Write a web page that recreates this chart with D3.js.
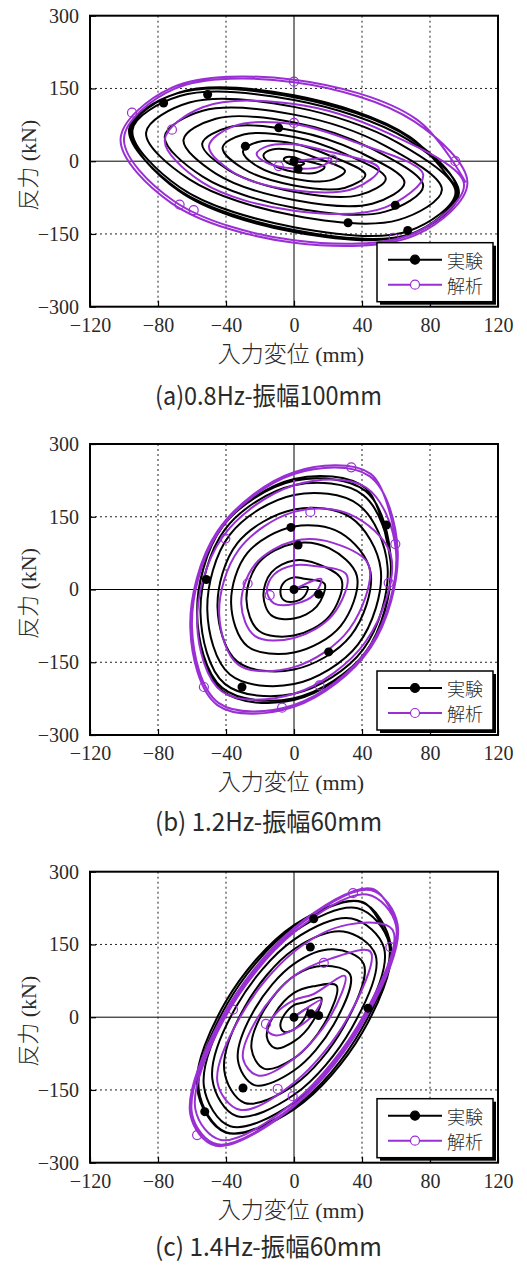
<!DOCTYPE html>
<html><head><meta charset="utf-8">
<script src="https://cdn.jsdelivr.net/npm/d3@7"></script>
<style>body{margin:0;background:#fff}</style>
</head><body>
<svg id="c" width="527" height="1265"></svg>
<script>
const xTicks=[-120,-80,-40,0,40,80,120];
const yTicks=[-300,-150,0,150,300];
const xGrid=[-80,-40,40,80];
const yGrid=[-150,150];
const captions=["(a)0.8Hz-振幅100mm","(b) 1.2Hz-振幅60mm","(c) 1.4Hz-振幅60mm"];
const legendNames=["実験","解析"];
const xTitle="入力変位", xUnit=" (mm)", yTitle="反力", yUnit=" (kN)";

// (a) 0.8Hz experiment / analysis  [displacement mm, force kN]
const expA=[[0,0],
[6,-4],[4.2,-8.5],[0,-8],[-4.2,-2.8],[-6,4],[-4.2,8.5],[0,8],[4.2,2.8],
[18,-12],[12.7,-24],[0,-22],[-12.7,-7.1],[-18,12],[-12.7,24],[0,22],[12.7,7.1],
[30,-20],[21.2,-39.6],[0,-36],[-21.2,-11.3],[-30,20],[-21.2,39.6],[0,36],[21.2,11.3],
[42,-28],[29.7,-55.1],[0,-50],[-29.7,-15.6],[-42,28],[-29.7,55.1],[0,50],[29.7,15.6],
[54,-36],[38.2,-70],[0,-63],[-38.2,-19.1],[-54,36],[-38.2,70],[0,63],[38.2,19.1],
[65,-44],[46,-87.7],[0,-80],[-46,-25.5],[-65,44],[-46,87.7],[0,80],[46,25.5],
[76,-51],[53.7,-103.9],[0,-96],[-53.7,-31.8],[-76,51],[-53.7,103.9],[0,96],[53.7,31.8],
[87,-59],[61.5,-120.9],[0,-112],[-61.5,-37.5],[-87,59],[-61.5,120.9],[0,112],[61.5,37.5],
[95,-64],[67.2,-144.3],[0,-136],[-67.2,-53.8],[-95,64],[-67.2,134.3],[0,126],[67.2,43.8],
[97,-66],[68.6,-150],[0,-142],[-68.6,-56.7],[-97,66],[-68.6,140],[0,132],[68.6,46.7],
[96,-64],[67.9,-151.4],[0,-146],[-67.9,-60.9],[-96,64],[-67.9,141.4],[0,136],[67.9,50.9],
[97,-62]];
const anaA=[[0,0],
[22,5],[15.6,-11.2],[0,-15],[-15.6,-4.1],[-22,15],[-15.6,31.2],[0,35],[15.6,24.1],
[50,-15],[35.4,-56.3],[0,-60],[-35.4,-23.8],[-50,31],[-35.4,72.3],[0,76],[35.4,39.8],
[76,-28],[53.7,-95.2],[0,-102],[-53.7,-44.3],[-76,44],[-53.7,111.2],[0,118],[53.7,60.3],
[100,-47],[70.7,-148.5],[0,-163],[-70.7,-82],[-100,47],[-70.7,148.5],[0,163],[70.7,82],
[102,-46],[72.1,-151.3],[0,-168],[-72.1,-86.3],[-102,46],[-72.1,151.3],[0,168],[72.1,86.3],
[101,-44]];
const expMkA=[[-76.7,120],[-50.8,137.6],[-9,68.8],[-28.6,31],[0,0],[2.4,-16],[59.6,-90.8],[31.8,-127],[66.9,-143]];
const anaMkA=[[0,164],[0,79],[22.7,3.4],[-9,-10],[-95.3,100],[-71.8,65],[-67.3,-89.5],[-59,-101],[94.9,0],[58.6,-158]];

// (b) 1.2Hz
const expB=[[0,0],
[8,5],[5.9,-14.8],[0,-25],[-5.9,-22.2],[-8,-5],[-5.9,14.8],[0,25],[5.9,22.2],
[18,12],[13.3,-35.5],[0,-60],[-13.3,-53.3],[-18,-12],[-13.3,35.5],[0,60],[13.3,53.3],
[28,20],[20.7,-55.5],[0,-95],[-20.7,-85.1],[-28,-20],[-20.7,55.5],[0,95],[20.7,85.1],
[37,28],[27.4,-75.5],[0,-130],[-27.4,-116.9],[-37,-28],[-27.4,75.5],[0,130],[27.4,116.9],
[45,36],[33.3,-95.5],[0,-165],[-33.3,-148.7],[-45,-36],[-33.3,95.5],[0,165],[33.3,148.7],
[51,42],[37.7,-113.2],[0,-195],[-37.7,-175.4],[-51,-42],[-37.7,113.2],[0,195],[37.7,175.4],
[55,48],[40.7,-123.6],[0,-215],[-40.7,-194.6],[-55,-48],[-40.7,123.6],[0,215],[40.7,194.6],
[57,50],[42.2,-128.8],[0,-224],[-42.2,-202.8],[-57,-50],[-42.2,128.8],[0,224],[42.2,202.8],
[57,54],[42.2,-128.8],[0,-228],[-42.2,-208.7],[-57,-54],[-42.2,128.8],[0,228],[42.2,208.7],
[57,54]];
const anaB=[[0,0],
[16,22],[11.8,-10.7],[0,-30],[-11.8,-28.5],[-16,-2],[-11.8,30.7],[0,50],[11.8,48.5],
[31,30],[22.9,-51.8],[0,-100],[-22.9,-96.2],[-31,-30],[-22.9,51.8],[0,100],[22.9,96.2],
[44,50],[32.6,-81.4],[0,-160],[-32.6,-155.4],[-44,-50],[-32.6,81.4],[0,160],[32.6,155.4],
[57,70],[42.2,-107.3],[0,-215],[-42.2,-210.9],[-57,-70],[-42.2,107.3],[0,215],[42.2,210.9],
[60,78],[44.4,-118.4],[0,-238],[-44.4,-233.8],[-60,-78],[-44.4,118.4],[0,238],[44.4,233.8],
[61,80],[45.1,-119.9],[0,-242],[-45.1,-238.3],[-61,-80],[-45.1,119.9],[0,242],[45.1,238.3],
[61,82]];
const anaJumpB=[[0,0],[0,226]];
const expMkB=[[-1.8,128],[2.4,91.5],[-51.6,20.6],[0,0],[14.5,-9.6],[54.3,132.8],[20.4,-128.7],[-30.6,-201]];
const anaMkB=[[33.7,252],[9.6,160],[59.6,93.6],[55.7,13.8],[-40.4,105],[-27.3,12.4],[-14.3,-11.7],[-53,-201],[-7,-243.6],[15,-197.5]];

// (c) 1.4Hz
const expC=[[0,0],
[8,18],[5.7,-4.9],[0,-25],[-5.7,-30.4],[-8,-18],[-5.7,4.9],[0,25],[5.7,30.4],
[16,40],[11.3,-7.1],[0,-50],[-11.3,-63.6],[-16,-40],[-11.3,7.1],[0,50],[11.3,63.6],
[25,65],[17.7,-14.1],[0,-85],[-17.7,-106],[-25,-65],[-17.7,14.1],[0,85],[17.7,106],
[33,88],[23.3,-15.6],[0,-110],[-23.3,-140],[-33,-88],[-23.3,15.6],[0,110],[23.3,140],
[41,110],[29,-21.2],[0,-140],[-29,-176.8],[-41,-110],[-29,21.2],[0,140],[29,176.8],
[48,128],[33.9,-22.6],[0,-160],[-33.9,-203.6],[-48,-128],[-33.9,22.6],[0,160],[33.9,203.6],
[53,142],[37.5,-24],[0,-176],[-37.5,-224.8],[-53,-142],[-37.5,24],[0,176],[37.5,224.8],
[56,150],[39.6,-25.5],[0,-186],[-39.6,-237.6],[-56,-150],[-39.6,25.5],[0,186],[39.6,237.6],
[57,146],[40.3,-31.1],[0,-190],[-40.3,-237.6],[-57,-146],[-40.3,31.1],[0,190],[40.3,237.6],
[57,146]];
const anaC=[[0,0],
[16,35],[11.3,5],[0,-25],[-11.3,-37.4],[-16,-25],[-11.3,5],[0,35],[11.3,47.4],
[30,85],[21.2,0],[0,-85],[-21.2,-120.2],[-30,-85],[-21.2,0],[0,85],[21.2,120.2],
[45,135],[31.8,0],[0,-135],[-31.8,-190.9],[-45,-135],[-31.8,0],[0,135],[31.8,190.9],
[58,180],[41,3.5],[0,-175],[-43,-253],[-58,-190],[-41,-3.5],[0,175],[43,253],
[60,189],[42.4,5.7],[0,-181],[-45,-262],[-60,-199],[-42.4,-5.7],[0,181],[45,262],
[61,190],[43.1,4.2],[0,-184],[-46,-265],[-61,-200],[-43.1,-4.2],[0,184],[46,265],
[61,192]];
const expMkC=[[11.6,203],[9.6,144.5],[0,0],[10,6.9],[14.5,3.4],[43.5,18.6],[-30,-146],[-52.5,-194.8]];
const anaMkC=[[34.7,256],[56.7,144.5],[17.5,112],[-16.5,-13.8],[-35.9,15.8],[-9.6,-148],[-0.8,-163],[-57,-243]];

const BLACK="#000", PURPLE="#9a2fd4", TXT="#2a2a2a";
const SERIF="'Liberation Serif','Times New Roman',serif";
const JP="'Noto Sans CJK JP','Noto Sans',sans-serif";
const L=90,R=498,H=291;
const panels=[
 {top:15.7,exp:expA,ana:anaA,jump:null,expMk:expMkA,anaMk:anaMkA,cap:captions[0],capY:405},
 {top:444,exp:expB,ana:anaB,jump:anaJumpB,expMk:expMkB,anaMk:anaMkB,cap:captions[1],capY:831},
 {top:871.7,exp:expC,ana:anaC,jump:null,expMk:expMkC,anaMk:anaMkC,cap:captions[2],capY:1256}
];
const svg=d3.select("#c");
panels.forEach((p,i)=>{
  const g=svg.append("g").attr("transform",`translate(0,${p.top})`);
  const x=d3.scaleLinear().domain([-120,120]).range([L,R]);
  const y=d3.scaleLinear().domain([-300,300]).range([H,0]);
  // grid
  g.append("g").selectAll("line").data(xGrid).join("line")
   .attr("x1",d=>x(d)).attr("x2",d=>x(d)).attr("y1",0).attr("y2",H)
   .attr("stroke","#222").attr("stroke-width",1).attr("stroke-dasharray","2,3");
  g.append("g").selectAll("line").data(yGrid).join("line")
   .attr("y1",d=>y(d)).attr("y2",d=>y(d)).attr("x1",L).attr("x2",R)
   .attr("stroke","#222").attr("stroke-width",1).attr("stroke-dasharray","2,3");
  g.append("line").attr("x1",x(0)).attr("x2",x(0)).attr("y1",0).attr("y2",H).attr("stroke","#000").attr("stroke-width",1);
  g.append("line").attr("y1",y(0)).attr("y2",y(0)).attr("x1",L).attr("x2",R).attr("stroke","#000").attr("stroke-width",1);
  // curves
  const line=d3.line().x(d=>x(d[0])).y(d=>y(d[1])).curve(d3.curveCatmullRom.alpha(0.5));
  g.append("path").datum(p.exp).attr("d",line).attr("fill","none").attr("stroke",BLACK).attr("stroke-width",2).attr("stroke-linejoin","round");
  g.append("path").datum(p.ana).attr("d",line).attr("fill","none").attr("stroke",PURPLE).attr("stroke-width",2).attr("stroke-linejoin","round");
  if(p.jump){
    g.append("path").datum(p.jump).attr("d",d3.line().x(d=>x(d[0])).y(d=>y(d[1]))).attr("fill","none").attr("stroke",PURPLE).attr("stroke-width",1.8);
  }
  g.append("g").selectAll("circle").data(p.expMk).join("circle")
   .attr("cx",d=>x(d[0])).attr("cy",d=>y(d[1])).attr("r",4.5).attr("fill",BLACK);
  g.append("g").selectAll("circle").data(p.anaMk).join("circle")
   .attr("cx",d=>x(d[0])).attr("cy",d=>y(d[1])).attr("r",4.5).attr("fill","none").attr("stroke",PURPLE).attr("stroke-width",1.2);
  // axes
  const ax=g.append("g").attr("transform",`translate(0,${H})`)
   .call(d3.axisBottom(x).tickValues(xTicks).tickSize(-6).tickPadding(11));
  const ay=g.append("g").attr("transform",`translate(${L},0)`)
   .call(d3.axisLeft(y).tickValues(yTicks).tickSize(-6).tickPadding(11));
  [ax,ay].forEach(a=>{
    a.select(".domain").remove();
    a.selectAll("line").attr("stroke","#000").attr("stroke-width",1.2);
    a.selectAll("text").attr("font-family",SERIF).attr("font-size",20).attr("fill",TXT);
  });
  // frame
  g.append("rect").attr("x",L).attr("y",0).attr("width",R-L).attr("height",H)
   .attr("fill","none").attr("stroke","#000").attr("stroke-width",2);
  // legend
  const lx=377, ly=H-64, lw=116, lh=59;
  g.append("rect").attr("x",lx+3).attr("y",ly+3).attr("width",lw).attr("height",lh).attr("fill","#000");
  g.append("rect").attr("x",lx).attr("y",ly).attr("width",lw).attr("height",lh).attr("fill","#fff").attr("stroke","#000").attr("stroke-width",1.5);
  const items=[{c:BLACK,f:BLACK,name:legendNames[0]},{c:PURPLE,f:"none",name:legendNames[1]}];
  items.forEach((it,j)=>{
    const yy=ly+17+j*25;
    g.append("line").attr("x1",lx+11).attr("x2",lx+65).attr("y1",yy).attr("y2",yy).attr("stroke",it.c).attr("stroke-width",2);
    g.append("circle").attr("cx",lx+38).attr("cy",yy).attr("r",4.5).attr("fill",it.f==="none"?"#fff":it.f).attr("stroke",it.c).attr("stroke-width",1.2);
    g.append("text").attr("x",lx+70).attr("y",yy).attr("dominant-baseline","central")
     .attr("font-family",JP).attr("font-weight",300).attr("font-size",18).attr("fill",TXT).text(it.name);
  });
  // axis titles
  const xt=g.append("text").attr("x",291).attr("y",H+55).attr("text-anchor","middle").attr("fill",TXT);
  xt.append("tspan").attr("font-family",JP).attr("font-weight",300).attr("font-size",23).text(xTitle);
  xt.append("tspan").attr("font-family",SERIF).attr("font-size",22).text(xUnit);
  const yt=g.append("text").attr("transform",`translate(36,${H/2+4}) rotate(-90)`).attr("text-anchor","middle").attr("fill",TXT);
  yt.append("tspan").attr("font-family",JP).attr("font-weight",300).attr("font-size",22).text(yTitle);
  yt.append("tspan").attr("font-family",SERIF).attr("font-size",22).text(yUnit);
  // caption
  svg.append("text").attr("x",268.5).attr("y",p.capY).attr("text-anchor","middle")
   .attr("font-family",JP).attr("font-size",25).attr("fill",TXT)
   .attr("textLength",227).attr("lengthAdjust","spacingAndGlyphs").text(p.cap);
});
</script>
</body></html>
